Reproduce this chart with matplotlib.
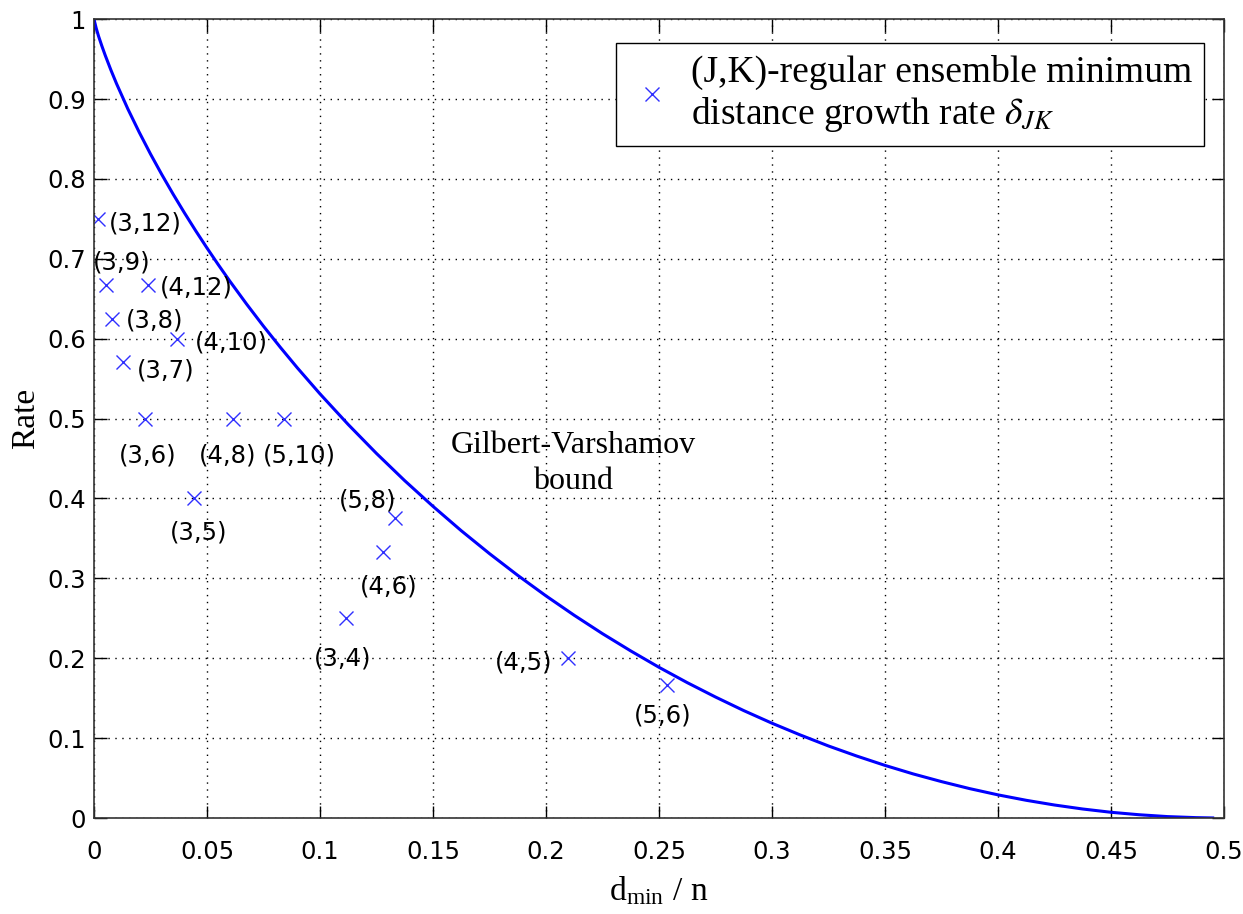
import numpy as np
import matplotlib
matplotlib.use("Agg")
import matplotlib.pyplot as plt

# Gilbert-Varshamov bound
gv_x = [0.0, 0.001, 0.002, 0.0035, 0.005, 0.0075, 0.01, 0.015, 0.02, 0.025,
        0.03, 0.035, 0.04, 0.045, 0.05, 0.055, 0.06, 0.0675, 0.075, 0.0825,
        0.09, 0.1, 0.1125, 0.125, 0.1375, 0.15, 0.1625, 0.175, 0.1875, 0.2,
        0.2125, 0.225, 0.2375, 0.25, 0.2625, 0.275, 0.2875, 0.3, 0.3125, 0.325,
        0.3375, 0.35, 0.3625, 0.375, 0.3875, 0.4, 0.4125, 0.425, 0.4375, 0.45,
        0.4625, 0.475, 0.4875, 0.495]
gv_rate = [1.0, 0.9886, 0.979, 0.9664, 0.9546, 0.9363, 0.9192, 0.8876, 0.8586,
           0.8313, 0.8056, 0.7811, 0.7577, 0.7352, 0.7136, 0.6927, 0.6725,
           0.6435, 0.6157, 0.5891, 0.5635, 0.531, 0.4926, 0.4564, 0.4223,
           0.3902, 0.3597, 0.331, 0.3038, 0.2781, 0.2538, 0.2308, 0.2092,
           0.1887, 0.1695, 0.1515, 0.1345, 0.1187, 0.104, 0.0902, 0.0776,
           0.0659, 0.0552, 0.0456, 0.0368, 0.029, 0.0222, 0.0163, 0.0113,
           0.0072, 0.0041, 0.0018, 0.0005, 0.0001]

# (J,K)-regular ensembles
ens_labels = ["(3,12)", "(3,9)", "(4,12)", "(3,8)", "(4,10)", "(3,7)", "(3,6)",
              "(4,8)", "(5,10)", "(3,5)", "(3,4)", "(5,8)", "(4,6)", "(4,5)", "(5,6)"]
ens_delta = [0.0019, 0.0053, 0.024, 0.0078, 0.0366, 0.013, 0.0226,
             0.0616, 0.0841, 0.0444, 0.1115, 0.133, 0.1277, 0.2099, 0.2534]
ens_rate = [0.75, 0.6667, 0.6667, 0.625, 0.6, 0.5714, 0.5,
            0.5, 0.5, 0.4, 0.25, 0.375, 0.3333, 0.2, 0.1667]

# label placement (pixel offset, alignment)
lab_pos = [(11, -5, "left"), (16, 23, "center"), (12, -2, "left"), (14, -2, "left"),
           (18, -4, "left"), (14, -9, "left"), (3, -37, "center"), (-6, -37, "center"),
           (15, -37, "center"), (4, -34, "center"), (-3, -40, "center"),
           (-27, 18, "center"), (6, -35, "center"), (-16, -4, "right"), (-4, -31, "center")]

serif = ["Liberation Serif", "DejaVu Serif"]
plt.rcParams["mathtext.fontset"] = "stix"

fig = plt.figure(figsize=(12.43, 9.14), dpi=100)
ax = fig.add_axes([0.0756, 0.105, 0.9091, 0.874])

ax.plot(gv_x, gv_rate, color="blue", lw=2.2)
ax.plot(ens_delta, ens_rate, "x", color="#3030ff", ms=10, mew=1.0,
        label="(J,K)-regular ensemble minimum\ndistance growth rate $\\delta_{JK}$")

for lab, dx, r, (ox, oy, ha) in zip(ens_labels, ens_delta, ens_rate, lab_pos):
    ax.annotate(lab, (dx, r), xytext=(ox, oy), textcoords="offset pixels",
                ha=ha, va="center", fontsize=17.5, family="DejaVu Sans")

ax.text(0.212, 0.444, "Gilbert-Varshamov\nbound", ha="center", va="center",
        fontsize=23, family=serif, linespacing=1.3)

ax.set_xlim(0, 0.5)
ax.set_ylim(0, 1)
ax.set_xticks(np.arange(0, 0.501, 0.05))
ax.set_yticks(np.arange(0, 1.001, 0.1))
ax.set_xticklabels(["0", "0.05", "0.1", "0.15", "0.2", "0.25", "0.3", "0.35",
                    "0.4", "0.45", "0.5"])
ax.set_yticklabels(["0", "0.1", "0.2", "0.3", "0.4", "0.5", "0.6", "0.7",
                    "0.8", "0.9", "1"])
ax.tick_params(direction="in", length=9, width=1, top=True, right=True,
               labelsize=17.5)
ax.tick_params(axis="x", pad=16)
ax.tick_params(axis="y", pad=6)
for t in ax.get_xticklabels() + ax.get_yticklabels():
    t.set_family("DejaVu Sans")
for s in ax.spines.values():
    s.set_linewidth(1.2)
    s.set_color("#333333")

ax.grid(True, color="black", linestyle=(0, (1, 4)), lw=1.0)

ax.set_xlabel("d$_{\\mathregular{min}}$ / n", fontsize=24, family=serif, labelpad=8)
ax.set_ylabel("Rate", fontsize=24, family=serif, labelpad=4)

leg = ax.legend(loc="upper right", bbox_to_anchor=(0.982, 0.97), borderaxespad=0,
                fancybox=False, edgecolor="black", framealpha=1,
                prop={"family": serif, "size": 27},
                handletextpad=0.4, borderpad=0.3, handlelength=1.3,
                labelspacing=0.2)
leg.get_frame().set_linewidth(1.0)

fig.savefig("out.png", dpi=100)
